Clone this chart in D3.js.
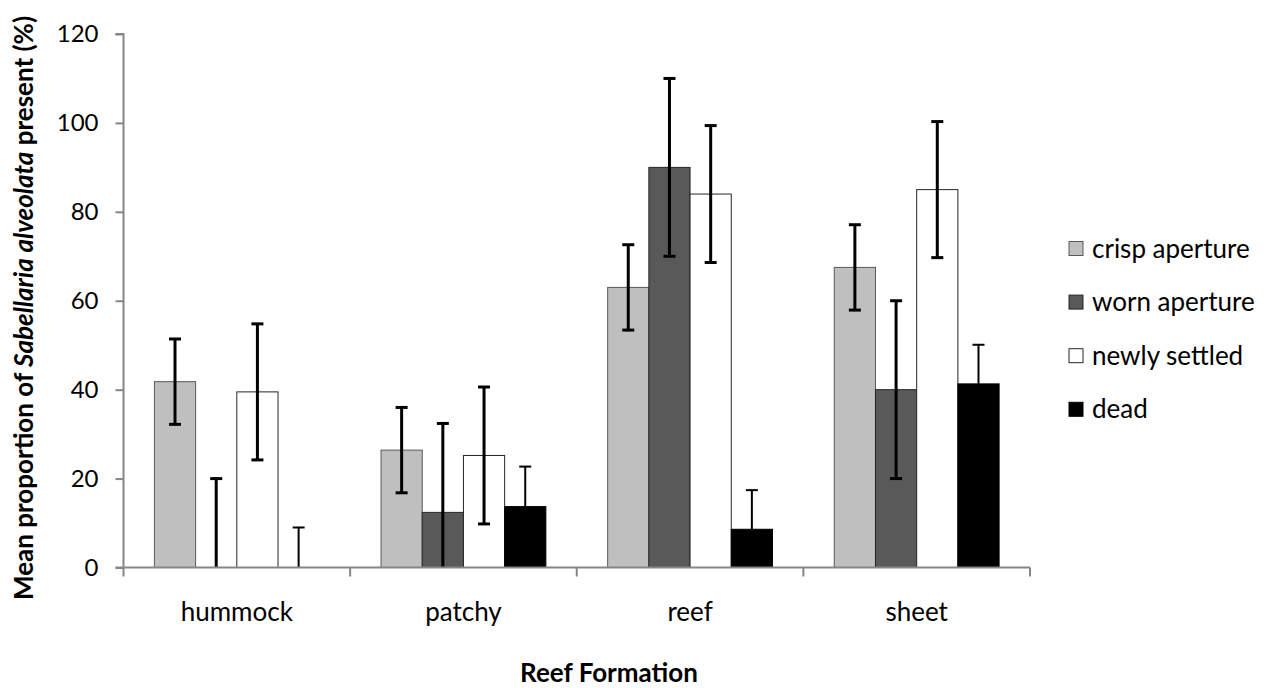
<!DOCTYPE html>
<html>
<head>
<meta charset="utf-8">
<script src="https://cdn.jsdelivr.net/npm/d3@7"></script>
<style>
  body { margin: 0; background: #fff; }
  text { font-family: Lato, "Open Sans", sans-serif; }
</style>
</head>
<body>
<div id="chart"></div>
<script>
// data
var formations = ["hummock", "patchy", "reef", "sheet"];
var seriesNames = ["crisp aperture", "worn aperture", "newly settled", "dead"];
var crisp = [41.8, 26.4, 63.0, 67.5];
var worn = [0, 12.4, 90.0, 40.0];
var newly = [39.5, 25.2, 84.0, 85.0];
var dead = [0, 13.7, 8.6, 41.3];
var crispErr = [9.6, 9.6, 9.6, 9.6];
var wornErr = [20, 20, 20, 20];
var newlyErr = [15.3, 15.4, 15.4, 15.3];
var deadErr = [9.0, 9.0, 8.8, 8.8];
var yTicks = [0, 20, 40, 60, 80, 100, 120];

var fills = ["#bfbfbf", "#595959", "#ffffff", "#000000"];
var strokes = ["#595959", "#262626", "#262626", "#000000"];
var errWidths = [3, 3, 3, 2];

var values = [crisp, worn, newly, dead];
var errors = [crispErr, wornErr, newlyErr, deadErr];

var W = 1269, H = 688;
var margin = {top: 34, left: 123.5};
var width = 1030 - margin.left,
    height = 567.5 - margin.top;

var svg = d3.select("#chart")
    .append("svg")
    .attr("width", W)
    .attr("height", H);

var g = svg.append("g")
    .attr("transform", "translate(" + margin.left + "," + margin.top + ")");

var x0 = d3.scaleBand()
    .domain(formations)
    .range([0, width])
    .padding(0);

// Excel gap width 150% => bars take 4/5.5 of each band
var barW = x0.bandwidth() / 5.5;
var x1 = d3.scaleBand()
    .domain(d3.range(4))
    .range([barW * 0.75, x0.bandwidth() - barW * 0.75])
    .padding(0);

var y = d3.scaleLinear()
    .domain([0, 120])
    .range([height, 0]);

// y axis
var yAxis = g.append("g")
    .call(d3.axisLeft(y).tickValues(yTicks).tickSize(8).tickPadding(17));
yAxis.selectAll("line").attr("stroke", "#868686").attr("stroke-width", 2);
yAxis.select(".domain").attr("stroke", "#868686").attr("stroke-width", 2)
    .attr("d", "M-8,0H0V" + height + "H-8");
yAxis.selectAll("text").attr("font-size", 24).attr("fill", "#000")
    .style("font-family", "Lato, 'Open Sans', sans-serif");

// bars
var groups = g.selectAll(".grp")
    .data(formations)
    .enter()
    .append("g")
    .attr("class", "grp")
    .attr("transform", function (d) { return "translate(" + x0(d) + ",0)"; });

groups.each(function (f, i) {
    var grp = d3.select(this);
    for (var s = 0; s < 4; s++) {
        var v = values[s][i];
        if (v > 0) {
            grp.append("rect")
                .attr("x", x1(s))
                .attr("y", y(v))
                .attr("width", x1.bandwidth())
                .attr("height", y(0) - y(v))
                .attr("fill", fills[s])
                .attr("stroke", strokes[s])
                .attr("stroke-width", 1);
        }
    }
});

// x axis (ticks between categories)
var xAxisG = g.append("g").attr("transform", "translate(0," + height + ")");
var edges = formations.map(function (d) { return x0(d); }).concat([width]);
xAxisG.append("line")
    .attr("x1", 0).attr("x2", width)
    .attr("stroke", "#868686").attr("stroke-width", 2);
xAxisG.selectAll(".xt")
    .data(edges)
    .enter()
    .append("line")
    .attr("x1", function (d) { return d; })
    .attr("x2", function (d) { return d; })
    .attr("y1", 0).attr("y2", 9)
    .attr("stroke", "#868686").attr("stroke-width", 2);
xAxisG.selectAll(".xl")
    .data(formations)
    .enter()
    .append("text")
    .attr("x", function (d) { return x0(d) + x0.bandwidth() / 2; })
    .attr("y", 53)
    .attr("text-anchor", "middle")
    .attr("font-size", 26)
    .text(function (d) { return d; });

// error bars
groups.each(function (f, i) {
    var grp = d3.select(this);
    for (var s = 0; s < 4; s++) {
        var v = values[s][i], e = errors[s][i];
        var cx = x1(s) + x1.bandwidth() / 2;
        var lo = Math.max(0, v - e), hi = v + e;
        var sw = errWidths[s];
        grp.append("line")
            .attr("x1", cx).attr("x2", cx)
            .attr("y1", y(lo)).attr("y2", y(hi))
            .attr("stroke", "#000").attr("stroke-width", sw);
        grp.append("line")
            .attr("x1", cx - 6).attr("x2", cx + 6)
            .attr("y1", y(hi)).attr("y2", y(hi))
            .attr("stroke", "#000").attr("stroke-width", sw);
        if (v - e > 0) {
            grp.append("line")
                .attr("x1", cx - 6).attr("x2", cx + 6)
                .attr("y1", y(lo)).attr("y2", y(lo))
                .attr("stroke", "#000").attr("stroke-width", sw);
        }
    }
});

// axis titles
svg.append("text")
    .attr("x", 609)
    .attr("y", 682)
    .attr("text-anchor", "middle")
    .attr("font-size", 26)
    .attr("font-weight", "bold")
    .text("Reef Formation");

var yt = svg.append("text")
    .attr("transform", "translate(33,308) rotate(-90)")
    .attr("text-anchor", "middle")
    .attr("font-size", 26)
    .attr("font-weight", "bold");
yt.append("tspan").text("Mean proportion of ");
yt.append("tspan").attr("font-style", "italic").text("Sabellaria alveolata");
yt.append("tspan").text(" present (%)");

// legend
var legend = svg.append("g")
    .selectAll(".lg")
    .data(seriesNames)
    .enter()
    .append("g")
    .attr("transform", function (d, i) { return "translate(1069," + (248.5 + i * 53.6) + ")"; });
legend.append("rect")
    .attr("x", 0).attr("y", -7)
    .attr("width", 14).attr("height", 14)
    .attr("fill", function (d, i) { return fills[i]; })
    .attr("stroke", function (d, i) { return strokes[i]; })
    .attr("stroke-width", 1);
legend.append("text")
    .attr("x", 23)
    .attr("y", 9)
    .attr("font-size", 26)
    .text(function (d) { return d; });
</script>
</body>
</html>
